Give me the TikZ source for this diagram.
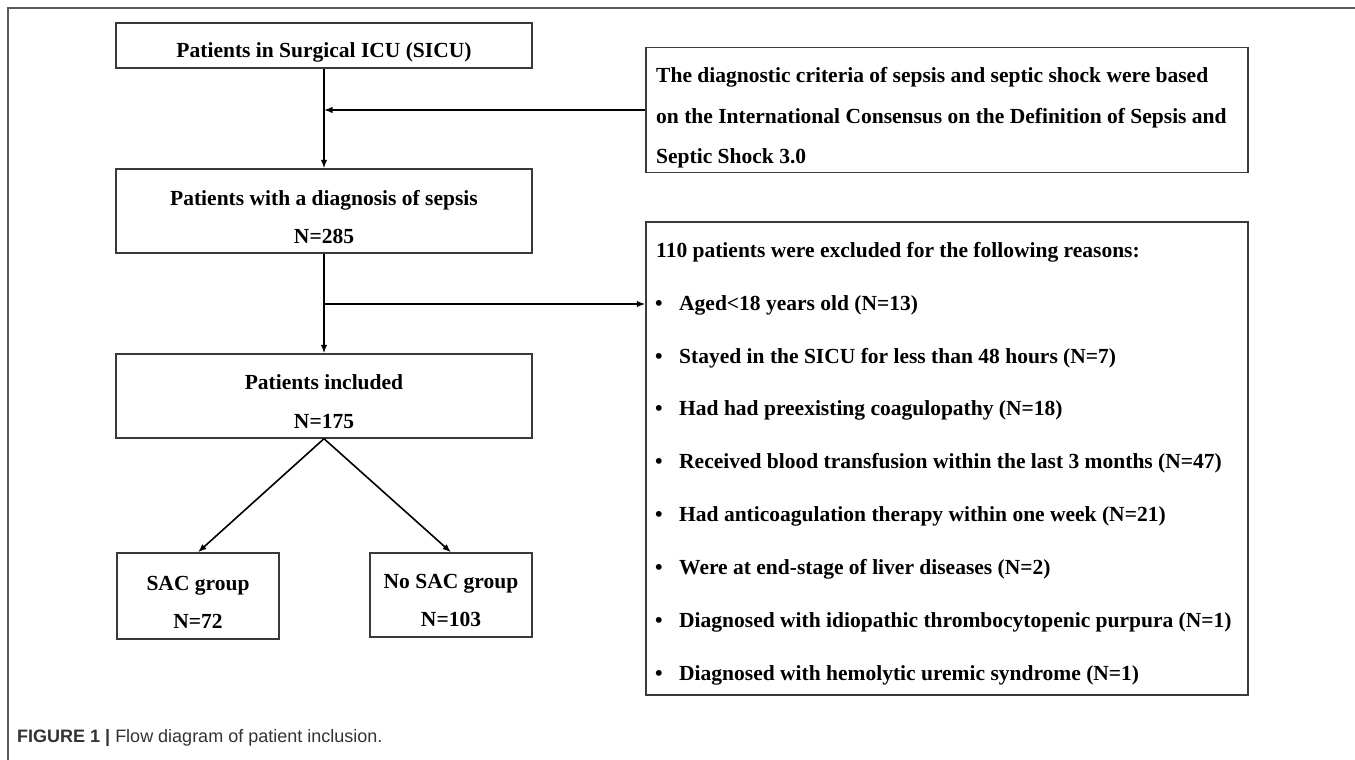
\documentclass[tikz,border=0pt]{standalone}
\usepackage{fontspec}
\setmainfont{Liberation Serif}
\newfontfamily\capfont{Liberation Sans}
\usetikzlibrary{arrows.meta}
\definecolor{framegray}{HTML}{5A5A5A}
\definecolor{boxgray}{HTML}{3A3A3A}
\definecolor{capgray}{HTML}{333333}
\begin{document}
\begin{tikzpicture}[x=1pt,y=-1pt,
  box/.style={draw=boxgray, line width=1.4pt, inner sep=0pt},
  txt/.style={font=\fontsize{21.5}{26}\selectfont\bfseries, inner sep=0pt, anchor=base},
  ltxt/.style={txt, anchor=base west},
  arr/.style={draw=black, line width=1.6pt, -{Latex[length=8.5pt,width=6.5pt]}}]
\useasboundingbox (0,0) rectangle (1355,760);
\fill[white] (0,0) rectangle (1355,760);
\draw[framegray, line width=2pt] (8,762) -- (8,8) -- (1357,8);

% boxes
\node[box, minimum width=416pt, minimum height=45pt] (b1) at (324,45.5) {};
\node[box, minimum width=416pt, minimum height=84pt] (b2) at (324,211) {};
\node[box, minimum width=416pt, minimum height=84pt] (b3) at (324,396) {};
\node[box, minimum width=162pt, minimum height=86pt] (sac) at (198,596) {};
\node[box, minimum width=162pt, minimum height=84pt] (nosac) at (451,595) {};
\node[box, minimum width=602pt, minimum height=125pt] (crit) at (947,110) {};
\node[box, minimum width=602pt, minimum height=473pt] (excl) at (947,458.5) {};

% texts
\node[txt] (t1) at (324,58) {Patients in Surgical ICU (SICU)};
\node[txt] (t2a) at (324,205) {Patients with a diagnosis of sepsis};
\node[txt] (t2b) at (324,243) {N=285};
\node[txt] (t3a) at (324,389) {Patients included};
\node[txt] (t3b) at (324,428) {N=175};
\node[txt] (t4a) at (198,590) {SAC group};
\node[txt] (t4b) at (198,628) {N=72};
\node[txt] (t5a) at (451,588) {No SAC group};
\node[txt] (t5b) at (451,626) {N=103};

\node[ltxt] (c1) at (656,83) {The diagnostic criteria of sepsis and septic shock were based};
\node[ltxt] (c2) at (656,123) {on the International Consensus on the Definition of Sepsis and};
\node[ltxt] (c3) at (656,163) {Septic Shock 3.0};

\node[ltxt] (e0) at (656,257) {110 patients were excluded for the following reasons:};
\foreach \yy/\tt [count=\i] in {
  310/{Aged<18 years old (N=13)},
  363/{Stayed in the SICU for less than 48 hours (N=7)},
  415/{Had had preexisting coagulopathy (N=18)},
  468/{Received blood transfusion within the last 3 months (N=47)},
  521/{Had anticoagulation therapy within one week (N=21)},
  574/{Were at end-stage of liver diseases (N=2)},
  627/{Diagnosed with idiopathic thrombocytopenic purpura (N=1)},
  680/{Diagnosed with hemolytic uremic syndrome (N=1)}} {
  \node[txt] (bul\i) at (659,\yy) {\textbullet};
  \node[ltxt] (e\i) at (679,\yy) {\tt};
}

% connectors
\draw[arr] (b1.south) -- (b2.north);
\draw[arr] (crit.west) -- (crit.west -| b1.south);
\draw[arr] (b2.south) -- (b3.north);
\coordinate (j2) at (324,304);
\draw[arr] (j2) -- (j2 -| excl.west);
\draw[arr] (b3.south) -- (sac.north);
\draw[arr] (b3.south) -- (nosac.north);

% caption
\node[anchor=base west, inner sep=0pt, text=capgray, font=\capfont\fontsize{18}{22}\selectfont] (cap) at (17,742) {\textbf{FIGURE 1 |} Flow diagram of patient inclusion.};
\end{tikzpicture}
\end{document}
